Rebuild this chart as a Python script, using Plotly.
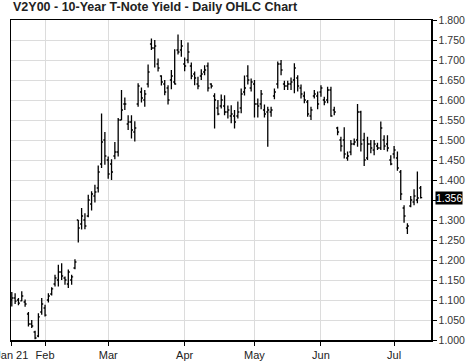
import plotly.graph_objects as go

title_text = "V2Y00 - 10-Year T-Note Yield - Daily OHLC Chart"

# trading-day index of each bar
bar_index = list(range(124))

opens = [1.10, 1.105, 1.10, 1.098, 1.095, 1.065, 1.04, 1.02, 1.01, 1.07,
         1.08, 1.10, 1.115, 1.14, 1.15, 1.17, 1.155, 1.14, 1.15, 1.18,
         1.30, 1.29, 1.30, 1.31, 1.34, 1.36, 1.38, 1.44, 1.50, 1.45,
         1.44, 1.46, 1.47, 1.55, 1.59, 1.54, 1.545, 1.52, 1.59, 1.62,
         1.60, 1.64, 1.74, 1.73, 1.69, 1.66, 1.64, 1.63, 1.65, 1.645,
         1.725, 1.725, 1.69, 1.70, 1.685, 1.665, 1.64, 1.66, 1.67, 1.685,
         1.64, 1.61, 1.58, 1.585, 1.585, 1.57, 1.56, 1.56, 1.56, 1.58,
         1.62, 1.66, 1.63, 1.64, 1.59, 1.59, 1.575, 1.57, 1.57, 1.61,
         1.64, 1.69, 1.64, 1.635, 1.64, 1.65, 1.655, 1.63, 1.61, 1.595,
         1.56, 1.61, 1.61, 1.62, 1.60, 1.60, 1.625, 1.575, 1.53, 1.50,
         1.50, 1.455, 1.47, 1.49, 1.50, 1.57, 1.50, 1.455, 1.49, 1.475,
         1.485, 1.48, 1.50, 1.49, 1.45, 1.465, 1.455, 1.42, 1.33, 1.28,
         1.335, 1.345, 1.35, 1.38]
highs = [1.12, 1.117, 1.105, 1.122, 1.101, 1.07, 1.05, 1.023, 1.067, 1.105,
         1.088, 1.117, 1.132, 1.163, 1.188, 1.192, 1.159, 1.176, 1.163, 1.202,
         1.30, 1.33, 1.317, 1.363, 1.372, 1.388, 1.436, 1.566, 1.52, 1.459,
         1.452, 1.495, 1.555, 1.625, 1.606, 1.562, 1.562, 1.547, 1.642, 1.631,
         1.625, 1.689, 1.754, 1.75, 1.704, 1.662, 1.65, 1.637, 1.675, 1.727,
         1.764, 1.75, 1.706, 1.744, 1.694, 1.671, 1.658, 1.677, 1.687, 1.694,
         1.642, 1.617, 1.60, 1.614, 1.612, 1.586, 1.587, 1.575, 1.596, 1.629,
         1.661, 1.687, 1.654, 1.65, 1.604, 1.625, 1.589, 1.583, 1.583, 1.629,
         1.696, 1.70, 1.648, 1.648, 1.656, 1.692, 1.662, 1.639, 1.621, 1.60,
         1.583, 1.625, 1.621, 1.637, 1.608, 1.633, 1.633, 1.583, 1.533, 1.508,
         1.532, 1.471, 1.50, 1.504, 1.59, 1.573, 1.518, 1.508, 1.50, 1.50,
         1.493, 1.546, 1.512, 1.512, 1.462, 1.485, 1.471, 1.425, 1.337, 1.292,
         1.36, 1.377, 1.421, 1.385]
lows = [1.084, 1.09, 1.087, 1.097, 1.083, 1.034, 1.03, 1.002, 1.007, 1.063,
        1.059, 1.094, 1.111, 1.134, 1.134, 1.15, 1.138, 1.13, 1.138, 1.177,
        1.244, 1.276, 1.277, 1.307, 1.324, 1.344, 1.369, 1.43, 1.438, 1.403,
        1.40, 1.452, 1.459, 1.55, 1.575, 1.525, 1.504, 1.496, 1.583, 1.594,
        1.583, 1.631, 1.725, 1.681, 1.671, 1.636, 1.612, 1.589, 1.627, 1.639,
        1.714, 1.708, 1.672, 1.692, 1.652, 1.637, 1.627, 1.65, 1.662, 1.621,
        1.629, 1.529, 1.562, 1.579, 1.562, 1.554, 1.542, 1.529, 1.554, 1.567,
        1.611, 1.639, 1.621, 1.556, 1.556, 1.577, 1.556, 1.483, 1.558, 1.602,
        1.629, 1.662, 1.625, 1.625, 1.625, 1.617, 1.621, 1.604, 1.592, 1.558,
        1.55, 1.604, 1.577, 1.608, 1.587, 1.592, 1.558, 1.562, 1.512, 1.471,
        1.454, 1.448, 1.462, 1.487, 1.483, 1.471, 1.435, 1.45, 1.467, 1.462,
        1.475, 1.475, 1.475, 1.471, 1.437, 1.454, 1.423, 1.35, 1.293, 1.265,
        1.332, 1.337, 1.342, 1.354]
closes = [1.105, 1.097, 1.092, 1.11, 1.09, 1.04, 1.035, 1.005, 1.058, 1.09,
          1.062, 1.11, 1.128, 1.155, 1.17, 1.16, 1.15, 1.17, 1.158, 1.195,
          1.28, 1.31, 1.285, 1.35, 1.365, 1.37, 1.42, 1.495, 1.46, 1.415,
          1.42, 1.47, 1.55, 1.575, 1.59, 1.545, 1.525, 1.53, 1.635, 1.605,
          1.615, 1.67, 1.73, 1.735, 1.68, 1.645, 1.62, 1.60, 1.66, 1.64,
          1.72, 1.735, 1.685, 1.72, 1.66, 1.655, 1.635, 1.665, 1.675, 1.63,
          1.635, 1.60, 1.565, 1.60, 1.57, 1.575, 1.565, 1.545, 1.57, 1.615,
          1.63, 1.65, 1.645, 1.59, 1.585, 1.615, 1.565, 1.575, 1.575, 1.62,
          1.69, 1.675, 1.635, 1.64, 1.645, 1.68, 1.635, 1.615, 1.60, 1.565,
          1.575, 1.615, 1.59, 1.63, 1.595, 1.625, 1.56, 1.57, 1.52, 1.485,
          1.465, 1.46, 1.49, 1.495, 1.57, 1.49, 1.45, 1.49, 1.48, 1.49,
          1.48, 1.53, 1.485, 1.48, 1.44, 1.475, 1.43, 1.365, 1.31, 1.285,
          1.35, 1.36, 1.355, 1.356]

month_tick_index = [0, 10, 29, 52, 73, 93, 115]
month_tick_labels = ["Jan 21", "Feb", "Mar", "Apr", "May", "Jun", "Jul"]

y_tick_values = [round(1.0 + 0.05 * k, 3) for k in range(17)]
last_value = closes[-1]
# the 1.350 label sits under the last-value box, as in the reference
y_tick_text = ["" if abs(v - 1.35) < 1e-9 else f"{v:.3f}" for v in y_tick_values]

fig = go.Figure(go.Ohlc(
    x=bar_index, open=opens, high=highs, low=lows, close=closes,
    increasing=dict(line=dict(color="black", width=1.3)),
    decreasing=dict(line=dict(color="black", width=1.3)),
    tickwidth=0.45, hoverinfo="skip", showlegend=False,
))

font_main = "Liberation Sans, Arial, sans-serif"

fig.update_layout(
    width=474, height=361,
    margin=dict(l=11, r=43, t=20, b=21),
    paper_bgcolor="white", plot_bgcolor="white",
    showlegend=False,
    font=dict(family=font_main, size=11, color="#222"),
    xaxis=dict(
        range=[-0.24, 126.1], automargin=False,
        tickmode="array", tickvals=month_tick_index, ticktext=month_tick_labels,
        ticklabeloverflow="allow",
        showgrid=True, gridcolor="#dcdcdc", gridwidth=1,
        ticks="outside", ticklen=4, tickcolor="black",
        showline=True, linecolor="black", linewidth=1.5, mirror=True,
        zeroline=False, rangeslider=dict(visible=False),
        tickfont=dict(family=font_main, size=11, color="#222"),
    ),
    yaxis=dict(
        side="right", range=[1.0, 1.8], automargin=False,
        tickmode="array", tickvals=y_tick_values, ticktext=y_tick_text,
        ticklabeloverflow="allow",
        showgrid=True, gridcolor="#dcdcdc", gridwidth=1,
        ticks="outside", ticklen=4, tickcolor="black",
        showline=True, linecolor="black", linewidth=1.5, mirror=True,
        zeroline=False,
        tickfont=dict(family=font_main, size=10.5, color="#333"),
    ),
    annotations=[
        dict(text="<b>" + title_text + "</b>", xref="paper", yref="paper",
             x=0, y=1.0, xanchor="left", yanchor="bottom", yshift=4,
             showarrow=False, font=dict(family=font_main, size=12.5, color="#222")),
        dict(text=f"{last_value:.3f}", xref="paper", yref="y",
             x=1.0, y=last_value, xanchor="left", yanchor="middle", xshift=4,
             showarrow=False, bgcolor="black", borderpad=0,
             font=dict(family=font_main, size=10.5, color="white")),
    ],
)

fig.write_html(
    "out.html",
    config={"displayModeBar": False, "staticPlot": True},
    post_script="document.documentElement.style.margin='0';"
                "document.body.style.margin='0';"
                "document.body.style.overflow='hidden';",
)
